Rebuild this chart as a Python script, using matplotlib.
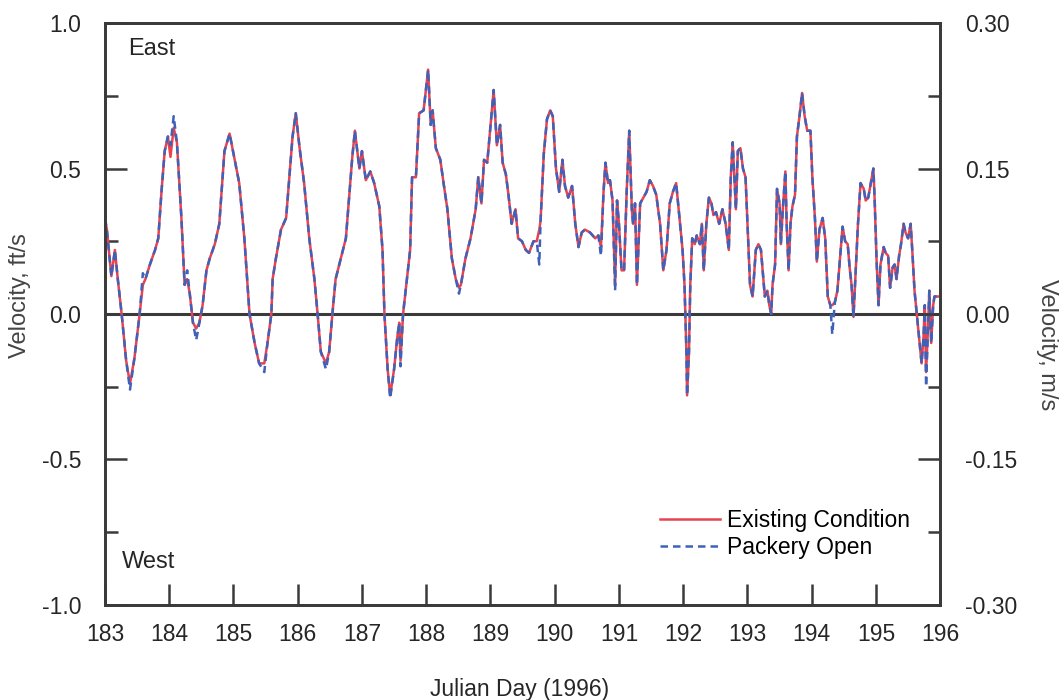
import numpy as np
import matplotlib.pyplot as plt
from matplotlib.ticker import MultipleLocator

plt.rcParams['font.family'] = ['Liberation Sans', 'DejaVu Sans']

# julian day and velocity (ft/s)
days = [183.00, 183.03, 183.10, 183.155, 183.20, 183.26, 183.33, 183.39, 183.46, 183.54,
        183.59, 183.63, 183.70, 183.78, 183.83, 183.88, 183.93, 183.98, 184.02, 184.07,
        184.12, 184.19, 184.24, 184.28, 184.32, 184.37, 184.42, 184.47, 184.52, 184.58,
        184.63, 184.71, 184.78, 184.86, 184.94, 185.02, 185.09, 185.17, 185.25, 185.33,
        185.40, 185.48, 185.53, 185.59, 185.61, 185.66, 185.74, 185.82, 185.87, 185.92,
        185.97, 186.03, 186.10, 186.18, 186.26, 186.31, 186.36, 186.44, 186.49, 186.54,
        186.59, 186.67, 186.75, 186.80, 186.85, 186.89, 186.96, 187.00, 187.06, 187.13,
        187.19, 187.27, 187.32, 187.35, 187.40, 187.44, 187.50, 187.55, 187.58, 187.60,
        187.64, 187.70, 187.75, 187.78, 187.84, 187.89, 187.96, 188.03, 188.07, 188.10,
        188.15, 188.22, 188.27, 188.33, 188.35, 188.40, 188.46, 188.51, 188.54, 188.61,
        188.69, 188.77, 188.81, 188.86, 188.90, 188.95, 188.99, 189.05, 189.10, 189.15,
        189.19, 189.24, 189.28, 189.33, 189.39, 189.43, 189.49, 189.55, 189.60, 189.67,
        189.72, 189.76, 189.78, 189.83, 189.88, 189.93, 189.97, 190.02, 190.07, 190.12,
        190.16, 190.21, 190.27, 190.32, 190.37, 190.42, 190.47, 190.55, 190.63, 190.68,
        190.72, 190.76, 190.79, 190.83, 190.86, 190.90, 190.94, 190.97, 191.00, 191.04,
        191.08, 191.12, 191.16, 191.20, 191.22, 191.25, 191.28, 191.33, 191.38, 191.43,
        191.48, 191.53, 191.58, 191.64, 191.69, 191.74, 191.79, 191.84, 191.89, 191.95,
        191.99, 192.02, 192.05, 192.06, 192.09, 192.11, 192.14, 192.18, 192.21, 192.26,
        192.29, 192.32, 192.36, 192.40, 192.44, 192.47, 192.51, 192.56, 192.61, 192.66,
        192.71, 192.74, 192.77, 192.82, 192.85, 192.89, 192.93, 192.97, 193.01, 193.04,
        193.08, 193.13, 193.17, 193.21, 193.27, 193.31, 193.34, 193.37, 193.39, 193.43,
        193.46, 193.50, 193.52, 193.55, 193.59, 193.61, 193.64, 193.67, 193.70, 193.74,
        193.77, 193.81, 193.85, 193.89, 193.93, 193.98, 194.01, 194.05, 194.08, 194.12,
        194.17, 194.21, 194.25, 194.29, 194.32, 194.36, 194.40, 194.44, 194.48, 194.52,
        194.56, 194.59, 194.62, 194.65, 194.69, 194.72, 194.76, 194.81, 194.84, 194.88,
        194.92, 194.96, 194.98, 195.01, 195.04, 195.07, 195.12, 195.15, 195.19, 195.22,
        195.26, 195.29, 195.32, 195.36, 195.39, 195.43, 195.46, 195.50, 195.54, 195.57,
        195.60, 195.64, 195.67, 195.71, 195.74, 195.76, 195.78, 195.81, 195.83, 195.86,
        195.89, 195.91, 196.00]

existing = [0.33, 0.29, 0.13, 0.22, 0.12, 0.00, -0.16, -0.24, -0.15, 0.00,
            0.10, 0.12, 0.17, 0.22, 0.26, 0.42, 0.56, 0.61, 0.54, 0.64,
            0.59, 0.33, 0.10, 0.12, 0.07, -0.03, -0.05, -0.03, 0.03, 0.15,
            0.19, 0.24, 0.31, 0.56, 0.62, 0.53, 0.45, 0.26, 0.00, -0.10,
            -0.17, -0.17, -0.10, 0.00, 0.12, 0.19, 0.29, 0.33, 0.47, 0.61,
            0.69, 0.57, 0.45, 0.26, 0.12, 0.00, -0.13, -0.17, -0.13, 0.00,
            0.12, 0.19, 0.26, 0.40, 0.54, 0.63, 0.50, 0.56, 0.46, 0.49,
            0.45, 0.37, 0.22, 0.00, -0.19, -0.28, -0.19, -0.08, -0.03, -0.16,
            0.00, 0.12, 0.22, 0.47, 0.47, 0.69, 0.70, 0.84, 0.65, 0.70,
            0.57, 0.53, 0.45, 0.36, 0.31, 0.19, 0.12, 0.09, 0.10, 0.19,
            0.26, 0.36, 0.47, 0.38, 0.53, 0.52, 0.62, 0.77, 0.58, 0.65,
            0.52, 0.48, 0.41, 0.31, 0.36, 0.26, 0.25, 0.22, 0.21, 0.25,
            0.25, 0.29, 0.32, 0.55, 0.67, 0.70, 0.68, 0.50, 0.42, 0.53,
            0.44, 0.40, 0.44, 0.31, 0.23, 0.28, 0.29, 0.28, 0.26, 0.27,
            0.23, 0.42, 0.52, 0.45, 0.46, 0.39, 0.10, 0.39, 0.31, 0.15,
            0.15, 0.42, 0.63, 0.36, 0.31, 0.38, 0.10, 0.38, 0.40, 0.42,
            0.46, 0.44, 0.41, 0.31, 0.15, 0.22, 0.38, 0.42, 0.45, 0.31,
            0.22, 0.10, -0.13, -0.28, -0.13, 0.10, 0.26, 0.24, 0.27, 0.24,
            0.31, 0.15, 0.31, 0.40, 0.38, 0.34, 0.35, 0.31, 0.36, 0.31,
            0.22, 0.47, 0.59, 0.36, 0.56, 0.57, 0.50, 0.47, 0.26, 0.10,
            0.06, 0.22, 0.24, 0.22, 0.06, 0.08, 0.03, 0.00, 0.10, 0.17,
            0.43, 0.38, 0.24, 0.36, 0.49, 0.31, 0.15, 0.31, 0.37, 0.41,
            0.61, 0.68, 0.76, 0.68, 0.63, 0.63, 0.47, 0.33, 0.18, 0.29,
            0.33, 0.26, 0.06, 0.03, 0.03, 0.04, 0.08, 0.19, 0.30, 0.25,
            0.24, 0.16, 0.10, -0.01, 0.17, 0.31, 0.45, 0.43, 0.39, 0.40,
            0.45, 0.50, 0.39, 0.18, 0.03, 0.17, 0.23, 0.21, 0.20, 0.09,
            0.16, 0.17, 0.12, 0.20, 0.24, 0.31, 0.28, 0.26, 0.31, 0.20,
            0.08, -0.01, -0.08, -0.17, -0.08, 0.03, -0.20, -0.05, 0.08, -0.10,
            0.03, 0.06, 0.06]

# where the Packery Open run differs from the existing condition
packery_diff = {183.39: -0.26, 183.59: 0.14, 184.02: 0.58, 184.07: 0.68,
                184.28: 0.15, 184.42: -0.09, 185.48: -0.20, 186.44: -0.19,
                187.44: -0.29, 187.60: -0.18, 188.51: 0.07, 189.76: 0.17,
                190.72: 0.20, 190.94: 0.08, 194.32: -0.07, 195.78: -0.25}
packery = [packery_diff.get(d, v) for d, v in zip(days, existing)]

xticks = list(range(183, 197))

dark = '#3a3a3a'
txt = '#262626'
fs = 16.5

fig = plt.figure(figsize=(10.6, 7), dpi=100)
ax = fig.add_axes([0.099, 0.136, 0.788, 0.831])

ax.plot(days, existing, color='#e8434f', lw=1.8, label='Existing Condition', zorder=3)
ax.plot(days, packery, color='#3f62b8', lw=1.8, ls=(0, (3, 2)), label='Packery Open', zorder=4)
ax.axhline(0, color=dark, lw=2.2, zorder=2)

ax.set_xlim(183, 196)
ax.set_ylim(-1, 1)
ax.set_xticks(xticks)
ax.set_yticks([-1, -0.5, 0, 0.5, 1])
ax.set_yticklabels(['-1.0', '-0.5', '0.0', '0.5', '1.0'])
ax.yaxis.set_minor_locator(MultipleLocator(0.25))
ax.tick_params(axis='x', direction='in', length=15, width=1.8, color=dark,
               labelsize=fs, pad=13, labelcolor=txt, top=False)
ax.tick_params(axis='y', which='major', direction='in', length=16, width=1.8, color=dark,
               labelsize=fs, pad=17, labelcolor=txt)
ax.tick_params(axis='y', which='minor', direction='in', length=9, width=1.8, color=dark)
for s in ax.spines.values():
    s.set_color(dark)
    s.set_linewidth(2)

ax2 = ax.twinx()
ax2.set_ylim(-0.3, 0.3)
ax2.set_yticks([-0.3, -0.15, 0, 0.15, 0.3])
ax2.set_yticklabels(['-0.30', '-0.15', '0.00', '0.15', '0.30'])
ax2.yaxis.set_minor_locator(MultipleLocator(0.075))
ax2.tick_params(axis='y', which='major', direction='in', length=16, width=1.8, color=dark,
                labelsize=fs, pad=18, labelcolor=txt)
ax2.tick_params(axis='y', which='minor', direction='in', length=9, width=1.8, color=dark)
for s in ax2.spines.values():
    s.set_color(dark)
    s.set_linewidth(2)

ax.set_xlabel('Julian Day (1996)', fontsize=fs, color=txt)
ax.xaxis.set_label_coords(0.496, -0.125)
ax.set_ylabel('Velocity, ft/s', fontsize=17, color='#444', va='center')
ax.yaxis.set_label_coords(-0.102, 0.531)
ax2.set_ylabel('Velocity, m/s', fontsize=17, color='#444', rotation=-90, va='center')
ax2.yaxis.set_label_coords(1.128, 0.447)

ax.text(0.0275, 0.945, 'East', transform=ax.transAxes, fontsize=17, color=txt, va='baseline')
ax.text(0.020, 0.064, 'West', transform=ax.transAxes, fontsize=17, color=txt, va='baseline')

ax.legend(loc='upper left', bbox_to_anchor=(0.665, 0.165), frameon=False, fontsize=fs,
          handlelength=2.6, labelspacing=0.2, handletextpad=0.3,
          borderpad=0, borderaxespad=0)

fig.savefig('out.png', dpi=100)
